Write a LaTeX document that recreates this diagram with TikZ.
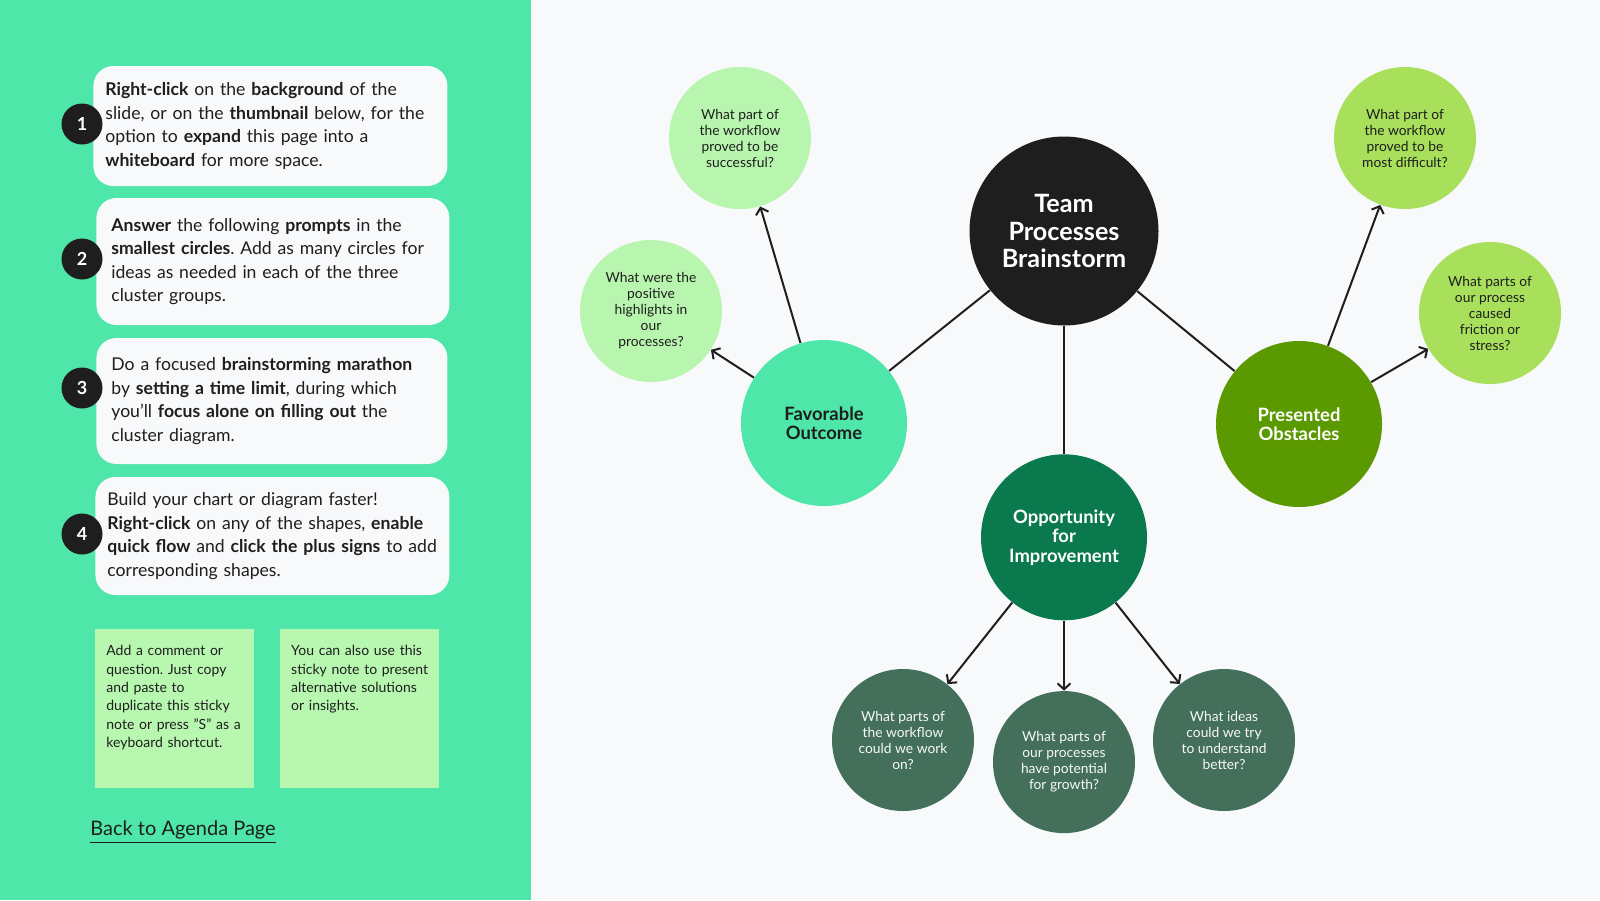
\documentclass[tikz,border=0pt]{standalone}
\usepackage{fontspec}
\setmainfont{Lato}
\usepackage{tikz}
\usetikzlibrary{arrows.meta,positioning}
\frenchspacing
\definecolor{panel}{HTML}{4FE6A9}
\definecolor{fondo}{HTML}{F8F9FB}
\definecolor{negro}{HTML}{1E1E1E}
\definecolor{colnota}{HTML}{B8F7AF}
\definecolor{claro}{HTML}{B8F5AE}
\definecolor{lima}{HTML}{A8E05C}
\definecolor{oscuro}{HTML}{436F5B}
\definecolor{colopor}{HTML}{0A7A4E}
\definecolor{colobst}{HTML}{5A9900}
\tikzstyle{tarjeta}=[rectangle,rounded corners=10pt,fill=fondo,align=left,anchor=west,text=negro,font=\fontsize{8.8}{11.75}\selectfont]
\tikzstyle{numero}=[circle,fill=negro,text=white,minimum size=20.5pt,inner sep=0,font=\bfseries\fontsize{9}{10}\selectfont]
\tikzstyle{nota}=[rectangle,fill=colnota,anchor=north west,align=left,text=negro,inner xsep=5.5pt,inner ysep=8pt,text width=68.5pt,text depth=58pt,font=\fontsize{7}{9.2}\selectfont]
\tikzstyle{burbuja}=[circle,inner sep=0,align=center,minimum size=71pt,font=\fontsize{6.9}{8}\selectfont]
\tikzstyle{grupo}=[circle,inner sep=0,align=center,minimum size=83pt,font=\bfseries\fontsize{9.2}{9.75}\selectfont]
\tikzstyle{enlace}=[line width=1pt,draw=negro]
\tikzstyle{flecha}=[enlace,-{Straight Barb[length=3pt,width=6.5pt]}]

\begin{document}
\begin{tikzpicture}[x=0.5pt,y=-0.5pt]
	\useasboundingbox (0,0) rectangle (1600,900);
	\fill[fondo] (0,0) rectangle (1600,900);
	\fill[panel] (0,0) rectangle (531,900);
	% instrucciones
	\node[tarjeta,inner xsep=6pt,text width=165pt,minimum height=60pt](paso1) at (93,126){\textbf{Right-click} on the \textbf{background} of the\\slide, or on the \textbf{thumbnail} below, for the\\option to \textbf{expand} this page into a\\\textbf{whiteboard} for more space.};
	\node[tarjeta,inner xsep=7.5pt,text width=161.5pt,minimum height=63.5pt](paso2) at (96,261.5){\textbf{Answer} the following \textbf{prompts} in the\\\textbf{smallest circles}. Add as many circles for\\ideas as needed in each of the three\\cluster groups.};
	\node[tarjeta,inner xsep=7.5pt,text width=160.5pt,minimum height=63pt](paso3) at (96,401){Do a focused \textbf{brainstorming marathon}\\by \textbf{setting a time limit}, during which\\you'll \textbf{focus alone on filling out} the\\cluster diagram.};
	\node[tarjeta,inner xsep=6pt,text width=165pt,minimum height=59pt](paso4) at (95,536){Build your chart or diagram faster!\\\textbf{Right-click} on any of the shapes, \textbf{enable}\\\textbf{quick flow} and \textbf{click the plus signs} to add\\corresponding shapes.};
	\node[numero](n1) at (82,124){1};
	\node[numero](n2) at (82,259){2};
	\node[numero](n3) at (82,388){3};
	\node[numero](n4) at (82,534){4};
	\node[nota](nota1) at (95,629){Add a comment or\\question. Just copy\\and paste to\\duplicate this sticky\\note or press "S" as a\\keyboard shortcut.};
	\node[nota](nota2)[right =12.5pt of nota1]{You can also use this\\sticky note to present\\alternative solutions\\or insights.};
	\node[anchor=west,inner sep=0,text=negro,font=\fontsize{10}{11}\selectfont](volver) at (90,832){\underline{Back to Agenda Page}};
	% diagrama
	\node[grupo,fill=negro,text=white,minimum size=94.5pt,font=\bfseries\fontsize{12.6}{13.8}\selectfont](centro) at (1064,231){Team\\Processes\\Brainstorm};
	\node[grupo,fill=panel,text=negro](fav) at (824,423){Favorable\\Outcome};
	\node[grupo,fill=colopor,text=white](opor)[below =64pt of centro]{Opportunity\\for\\Improvement};
	\node[grupo,fill=colobst,text=white](obst) at (1299,424){Presented\\Obstacles};
	\node[burbuja,fill=claro,text=negro](exito) at (740,138){What part of\\the workflow\\proved to be\\successful?};
	\node[burbuja,fill=claro,text=negro](logros) at (651,311){What were the\\positive\\highlights in\\our\\processes?};
	\node[burbuja,fill=lima,text=negro](dificil) at (1405,138){What part of\\the workflow\\proved to be\\most difficult?};
	\node[burbuja,fill=lima,text=negro](friccion) at (1490,313){What parts of\\our process\\caused\\friction or\\stress?};
	\node[burbuja,fill=oscuro,text=fondo](trabajo) at (903,740){What parts of\\the workflow\\could we work\\on?};
	\node[burbuja,fill=oscuro,text=fondo](crecer)[below =35pt of opor]{What parts of\\our processes\\have potential\\for growth?};
	\node[burbuja,fill=oscuro,text=fondo](ideas) at (1224,740){What ideas\\could we try\\to understand\\better?};
	\draw[enlace](centro) -- (fav);
	\draw[enlace](centro) -- (opor);
	\draw[enlace](centro) -- (obst);
	\draw[flecha](fav) -- (exito);
	\draw[flecha](fav) -- (logros);
	\draw[flecha](obst) -- (dificil);
	\draw[flecha](obst) -- (friccion);
	\draw[flecha](opor) -- (trabajo);
	\draw[flecha](opor) -- (crecer);
	\draw[flecha](opor) -- (ideas);
\end{tikzpicture}
\end{document}
